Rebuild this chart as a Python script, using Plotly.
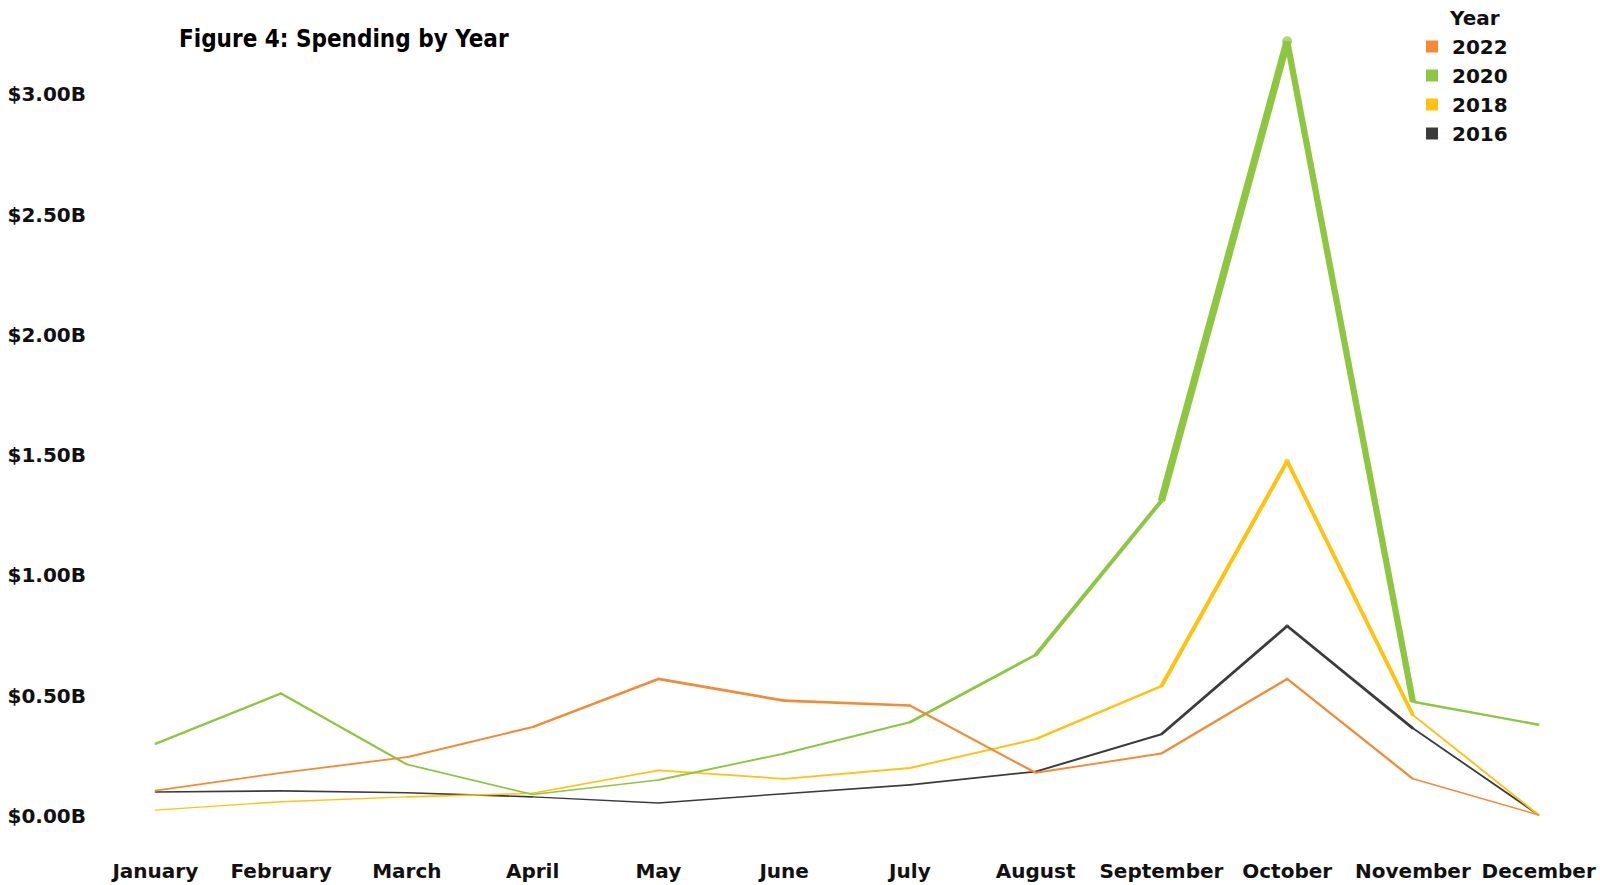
import plotly.graph_objects as go

months = ["January", "February", "March", "April", "May", "June", "July",
          "August", "September", "October", "November", "December"]

years = ["2022", "2020", "2018", "2016"]
spend_2022 = [0.106, 0.18, 0.245, 0.37, 0.57, 0.48, 0.46, 0.18, 0.26, 0.57, 0.155, 0.005]
spend_2020 = [0.30, 0.51, 0.215, 0.09, 0.15, 0.26, 0.39, 0.67, 1.31, 3.22, 0.475, 0.38]
spend_2018 = [0.025, 0.06, 0.08, 0.095, 0.19, 0.155, 0.20, 0.32, 0.54, 1.475, 0.42, 0.005]
spend_2016 = [0.10, 0.105, 0.097, 0.08, 0.055, 0.093, 0.13, 0.185, 0.34, 0.79, 0.365, 0.005]

colors = {"2022": "#F58A34", "2020": "#8DC63F", "2018": "#FFC20E", "2016": "#3B3B3B"}
series = {"2022": spend_2022, "2020": spend_2020, "2018": spend_2018, "2016": spend_2016}

y_ticks = [0, 0.5, 1.0, 1.5, 2.0, 2.5, 3.0]
y_tick_text = ["$0.00B", "$0.50B", "$1.00B", "$1.50B", "$2.00B", "$2.50B", "$3.00B"]


def width_for(v):
    return 1.3 + 2.7 * v


fig = go.Figure()
xs = list(range(len(months)))

# draw: 2016 first, 2022 last (on top)
for yr in ["2016", "2018", "2020", "2022"]:
    vals = series[yr]
    c = colors[yr]
    for i in range(len(vals) - 1):
        w = width_for((vals[i] + vals[i + 1]) / 2)
        fig.add_trace(go.Scatter(
            x=[xs[i], xs[i + 1]], y=[vals[i], vals[i + 1]],
            mode="lines", line=dict(color=c, width=w),
            showlegend=False, hoverinfo="skip"))
    fig.add_trace(go.Scatter(
        x=xs, y=vals, mode="markers",
        marker=dict(color=c, size=[width_for(v) for v in vals], line=dict(width=0)),
        showlegend=False, name=yr,
        hovertemplate="%{y:.2f}B<extra>" + yr + "</extra>"))

# legend entries (square swatches)
for yr in years:
    fig.add_trace(go.Scatter(
        x=[None], y=[None], mode="markers", name="<b>" + yr + "</b>",
        marker=dict(symbol="square", size=13, color=colors[yr]),
        showlegend=True))

L, R, T, B = 105, 11, 22, 40
W, H = 1600, 885

fig.update_layout(
    width=W, height=H,
    paper_bgcolor="white", plot_bgcolor="white",
    margin=dict(l=L, r=R, t=T, b=B, autoexpand=False),
    font=dict(family="DejaVu Sans", color="#111111"),
    title=dict(
        text="<b>Figure 4: Spending by Year</b>",
        font=dict(family="DejaVu Sans Condensed, Roboto, sans-serif", size=24, color="#000000"),
        xref="container", yref="container",
        x=179 / W, xanchor="left",
        y=1 - 39 / H, yanchor="middle"),
    xaxis=dict(
        range=[-0.4, 11.4], tickmode="array", tickvals=xs,
        ticktext=["<b>" + m + "</b>" for m in months],
        showgrid=False, zeroline=False, showline=False, ticks="",
        tickfont=dict(family="DejaVu Sans", size=20, color="#111111"),
        ticklabelstandoff=12, fixedrange=True),
    yaxis=dict(
        range=[-0.12, 3.3], tickmode="array", tickvals=y_ticks,
        ticktext=["<b>" + t + "</b>" for t in y_tick_text],
        showgrid=False, zeroline=False, showline=False, ticks="",
        tickfont=dict(family="DejaVu Sans", size=20, color="#111111"),
        ticklabelstandoff=18, fixedrange=True),
    legend=dict(
        font=dict(family="DejaVu Sans", size=20, color="#111111"),
        x=1412 / W, xref="container", xanchor="left",
        y=1 - 27 / H, yref="container", yanchor="top",
        bgcolor="rgba(255,255,255,0)", itemsizing="constant",
        tracegroupgap=0, itemwidth=30),
    annotations=[dict(
        text="<b>Year</b>", showarrow=False,
        xref="paper", yref="paper",
        x=(1474 - L) / (W - L - R), y=1 + (T - 18) / (H - T - B),
        xanchor="center", yanchor="middle",
        font=dict(family="DejaVu Sans", size=20, color="#111111"))],
)

fig.write_html("out.html", config={"displayModeBar": False},
               post_script="document.body.style.margin='0';document.body.style.overflow='hidden';")
